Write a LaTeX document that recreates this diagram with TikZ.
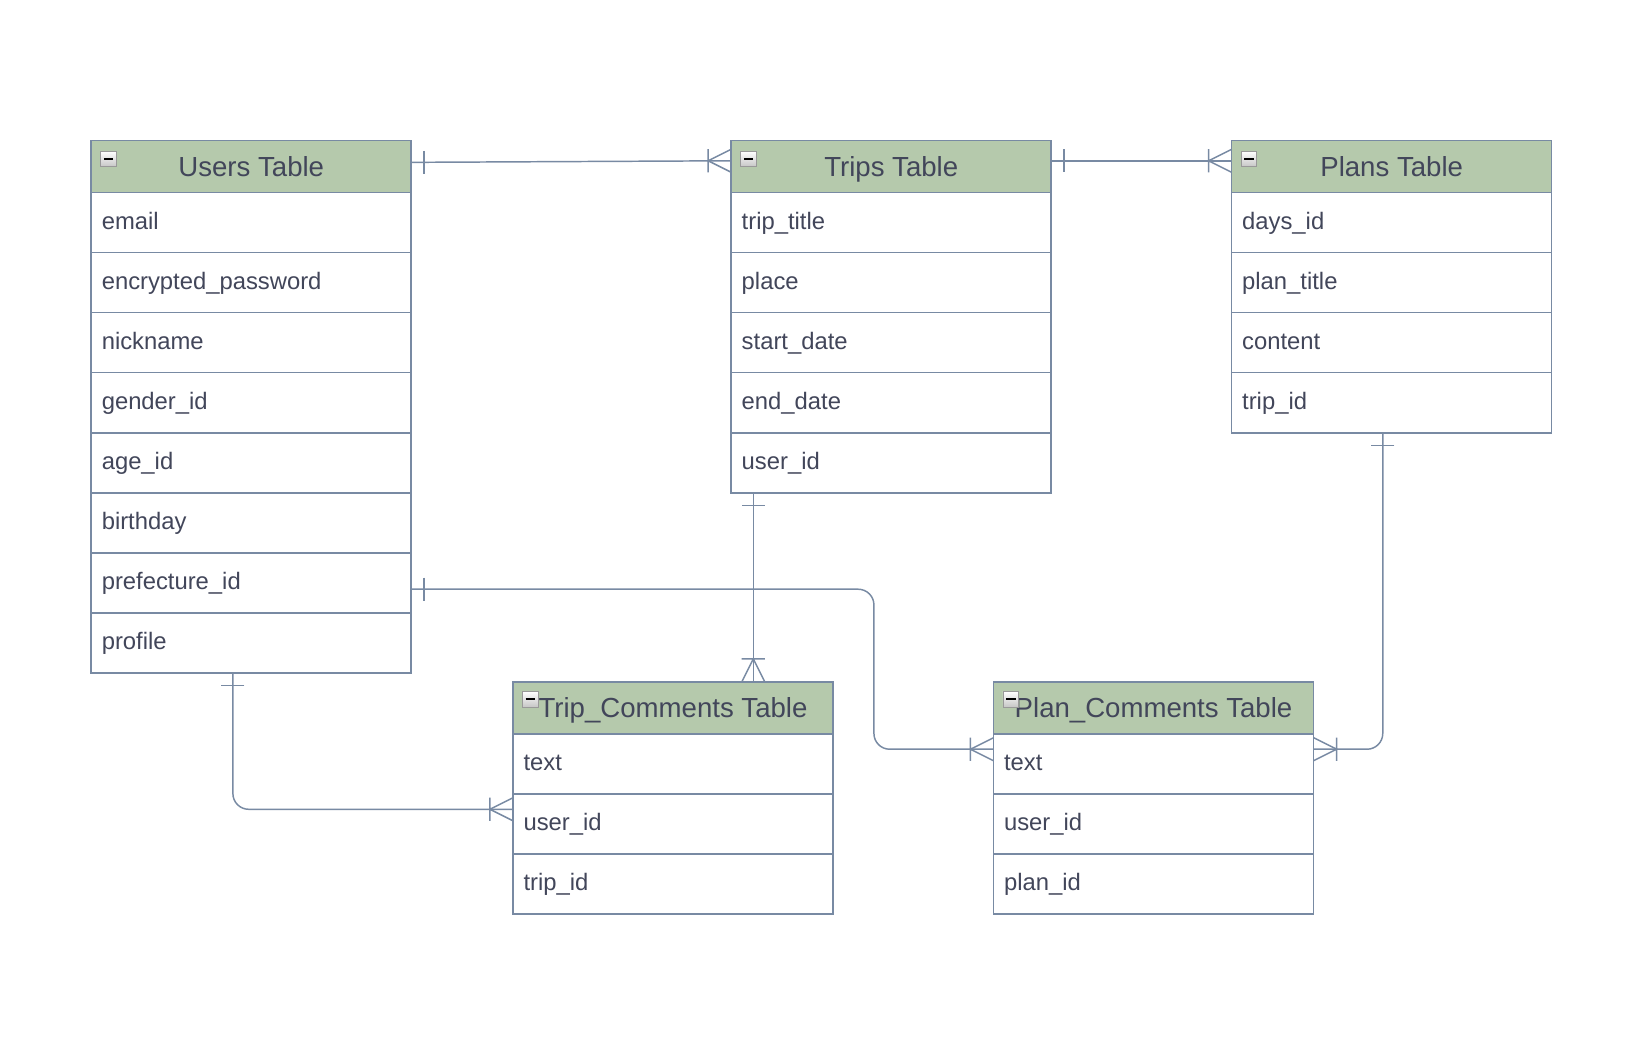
\documentclass[tikz,border=0pt]{standalone}
\usepackage{fontspec}
\setmainfont{Liberation Sans}
\usetikzlibrary{calc}
\definecolor{bd}{HTML}{788AA3}
\definecolor{hd}{HTML}{B5C9AC}
\definecolor{fc}{HTML}{42465A}
\begin{document}
\begin{tikzpicture}[x=1pt,y=-1pt,
  hdr/.style={draw=bd, line width=1.5pt, fill=hd, minimum width=305pt, minimum height=49.5pt,
    anchor=north west, inner sep=0pt, outer sep=0pt, text=fc,
    text height=18.8pt, text depth=0pt, font=\fontsize{26.3pt}{30pt}\selectfont},
  fld/.style={draw=bd, line width=1.5pt, fill=white, text width=285pt, inner xsep=10pt, inner ysep=0pt,
    minimum height=57.25pt, align=left, anchor=north west, outer sep=0pt, text=fc,
    text height=16.5pt, text depth=4pt, font=\fontsize{22.7pt}{26pt}\selectfont},
  mbox/.style={draw=gray!80, line width=0.9pt, top color=white, bottom color=gray!45,
    minimum width=15pt, minimum height=15pt, inner sep=0pt, anchor=north west, outer sep=0pt},
  conn/.style={draw=bd, line width=1.4pt},
  pics/crow/.style={code={\draw[conn] (0,-11) -- (-22,0) -- (0,11) (-22,-11) -- (-22,11);}},
  pics/one/.style={code={\draw[conn] (12,-11) -- (12,11);}}
]
\fill[white] (0,0) rectangle (1567,995);

% Users Table
\node[hdr] (uh) at (87,134) {Users Table};
\foreach \t [count=\i from 0] in {email,encrypted\_password,nickname,gender\_id,age\_id,birthday,prefecture\_id,profile}
  \node[fld] (u\i) at (87,183.5+\i*57.25) {\t};
\node[mbox] (uhm) at ($(uh.north west)+(9,10)$) {\rule{9pt}{2pt}};

% Trips Table
\node[hdr] (th) at (697,134) {Trips Table};
\foreach \t [count=\i from 0] in {trip\_title,place,start\_date,end\_date,user\_id}
  \node[fld] (t\i) at (697,183.5+\i*57.25) {\t};
\node[mbox] (thm) at ($(th.north west)+(9,10)$) {\rule{9pt}{2pt}};

% Plans Table
\node[hdr] (ph) at (1174,134) {Plans Table};
\foreach \t [count=\i from 0] in {days\_id,plan\_title,content,trip\_id}
  \node[fld] (p\i) at (1174,183.5+\i*57.25) {\t};
\node[mbox] (phm) at ($(ph.north west)+(9,10)$) {\rule{9pt}{2pt}};

% Trip_Comments Table
\node[hdr] (tch) at (489,650) {Trip\_Comments Table};
\foreach \t [count=\i from 0] in {text,user\_id,trip\_id}
  \node[fld] (tc\i) at (489,699.5+\i*57.25) {\t};
\node[mbox] (tchm) at ($(tch.north west)+(9,9)$) {\rule{9pt}{2pt}};

% Plan_Comments Table
\node[hdr] (pch) at (947,650) {Plan\_Comments Table};
\foreach \t [count=\i from 0] in {text,user\_id,plan\_id}
  \node[fld] (pc\i) at (947,699.5+\i*57.25) {\t};
\node[mbox] (pchm) at ($(pch.north west)+(9,9)$) {\rule{9pt}{2pt}};

% Users -> Trips
\coordinate (c1a) at ($(uh.east)+(0,-4)$);
\coordinate (c1b) at ($(th.west)+(0,-5.5)$);
\draw[conn] (c1a) -- (c1b);
\pic at (c1a) {one};
\pic at (c1b) {crow};

% Trips -> Plans
\coordinate (c2a) at ($(th.east)+(0,-5.5)$);
\coordinate (c2b) at ($(ph.west)+(0,-5.5)$);
\draw[conn] (c2a) -- (c2b);
\pic at (c2a) {one};
\pic at (c2b) {crow};

% Trips -> Trip_Comments
\coordinate (c3a) at ($(t4.south west)+(21,0)$);
\coordinate (c3b) at (c3a |- tch.north);
\draw[conn] (c3a) -- (c3b);
\pic[rotate=-90] at (c3a) {one};
\pic[rotate=-90] at (c3b) {crow};

% Users (prefecture_id) -> Plan_Comments
\coordinate (c4a) at ($(u6.east)+(0,6)$);
\coordinate (c4b) at ($(pc0.west)+(0,-14)$);
\coordinate (c4m) at ($(c4b)+(-114,0)$);
\draw[conn, rounded corners=15pt] (c4a) -| (c4m) -- (c4b);
\pic at (c4a) {one};
\pic at (c4b) {crow};

% Plans -> Plan_Comments
\coordinate (c5a) at ($(p3.south west)+(144,0)$);
\coordinate (c5b) at ($(pc0.east)+(0,-14)$);
\draw[conn, rounded corners=15pt] (c5a) |- (c5b);
\pic[rotate=-90] at (c5a) {one};
\pic[rotate=180] at (c5b) {crow};

% Users -> Trip_Comments
\coordinate (c6a) at ($(u7.south west)+(135,0)$);
\coordinate (c6b) at ($(tc1.west)+(0,-14)$);
\draw[conn, rounded corners=15pt] (c6a) |- (c6b);
\pic[rotate=-90] at (c6a) {one};
\pic at (c6b) {crow};
\end{tikzpicture}
\end{document}
